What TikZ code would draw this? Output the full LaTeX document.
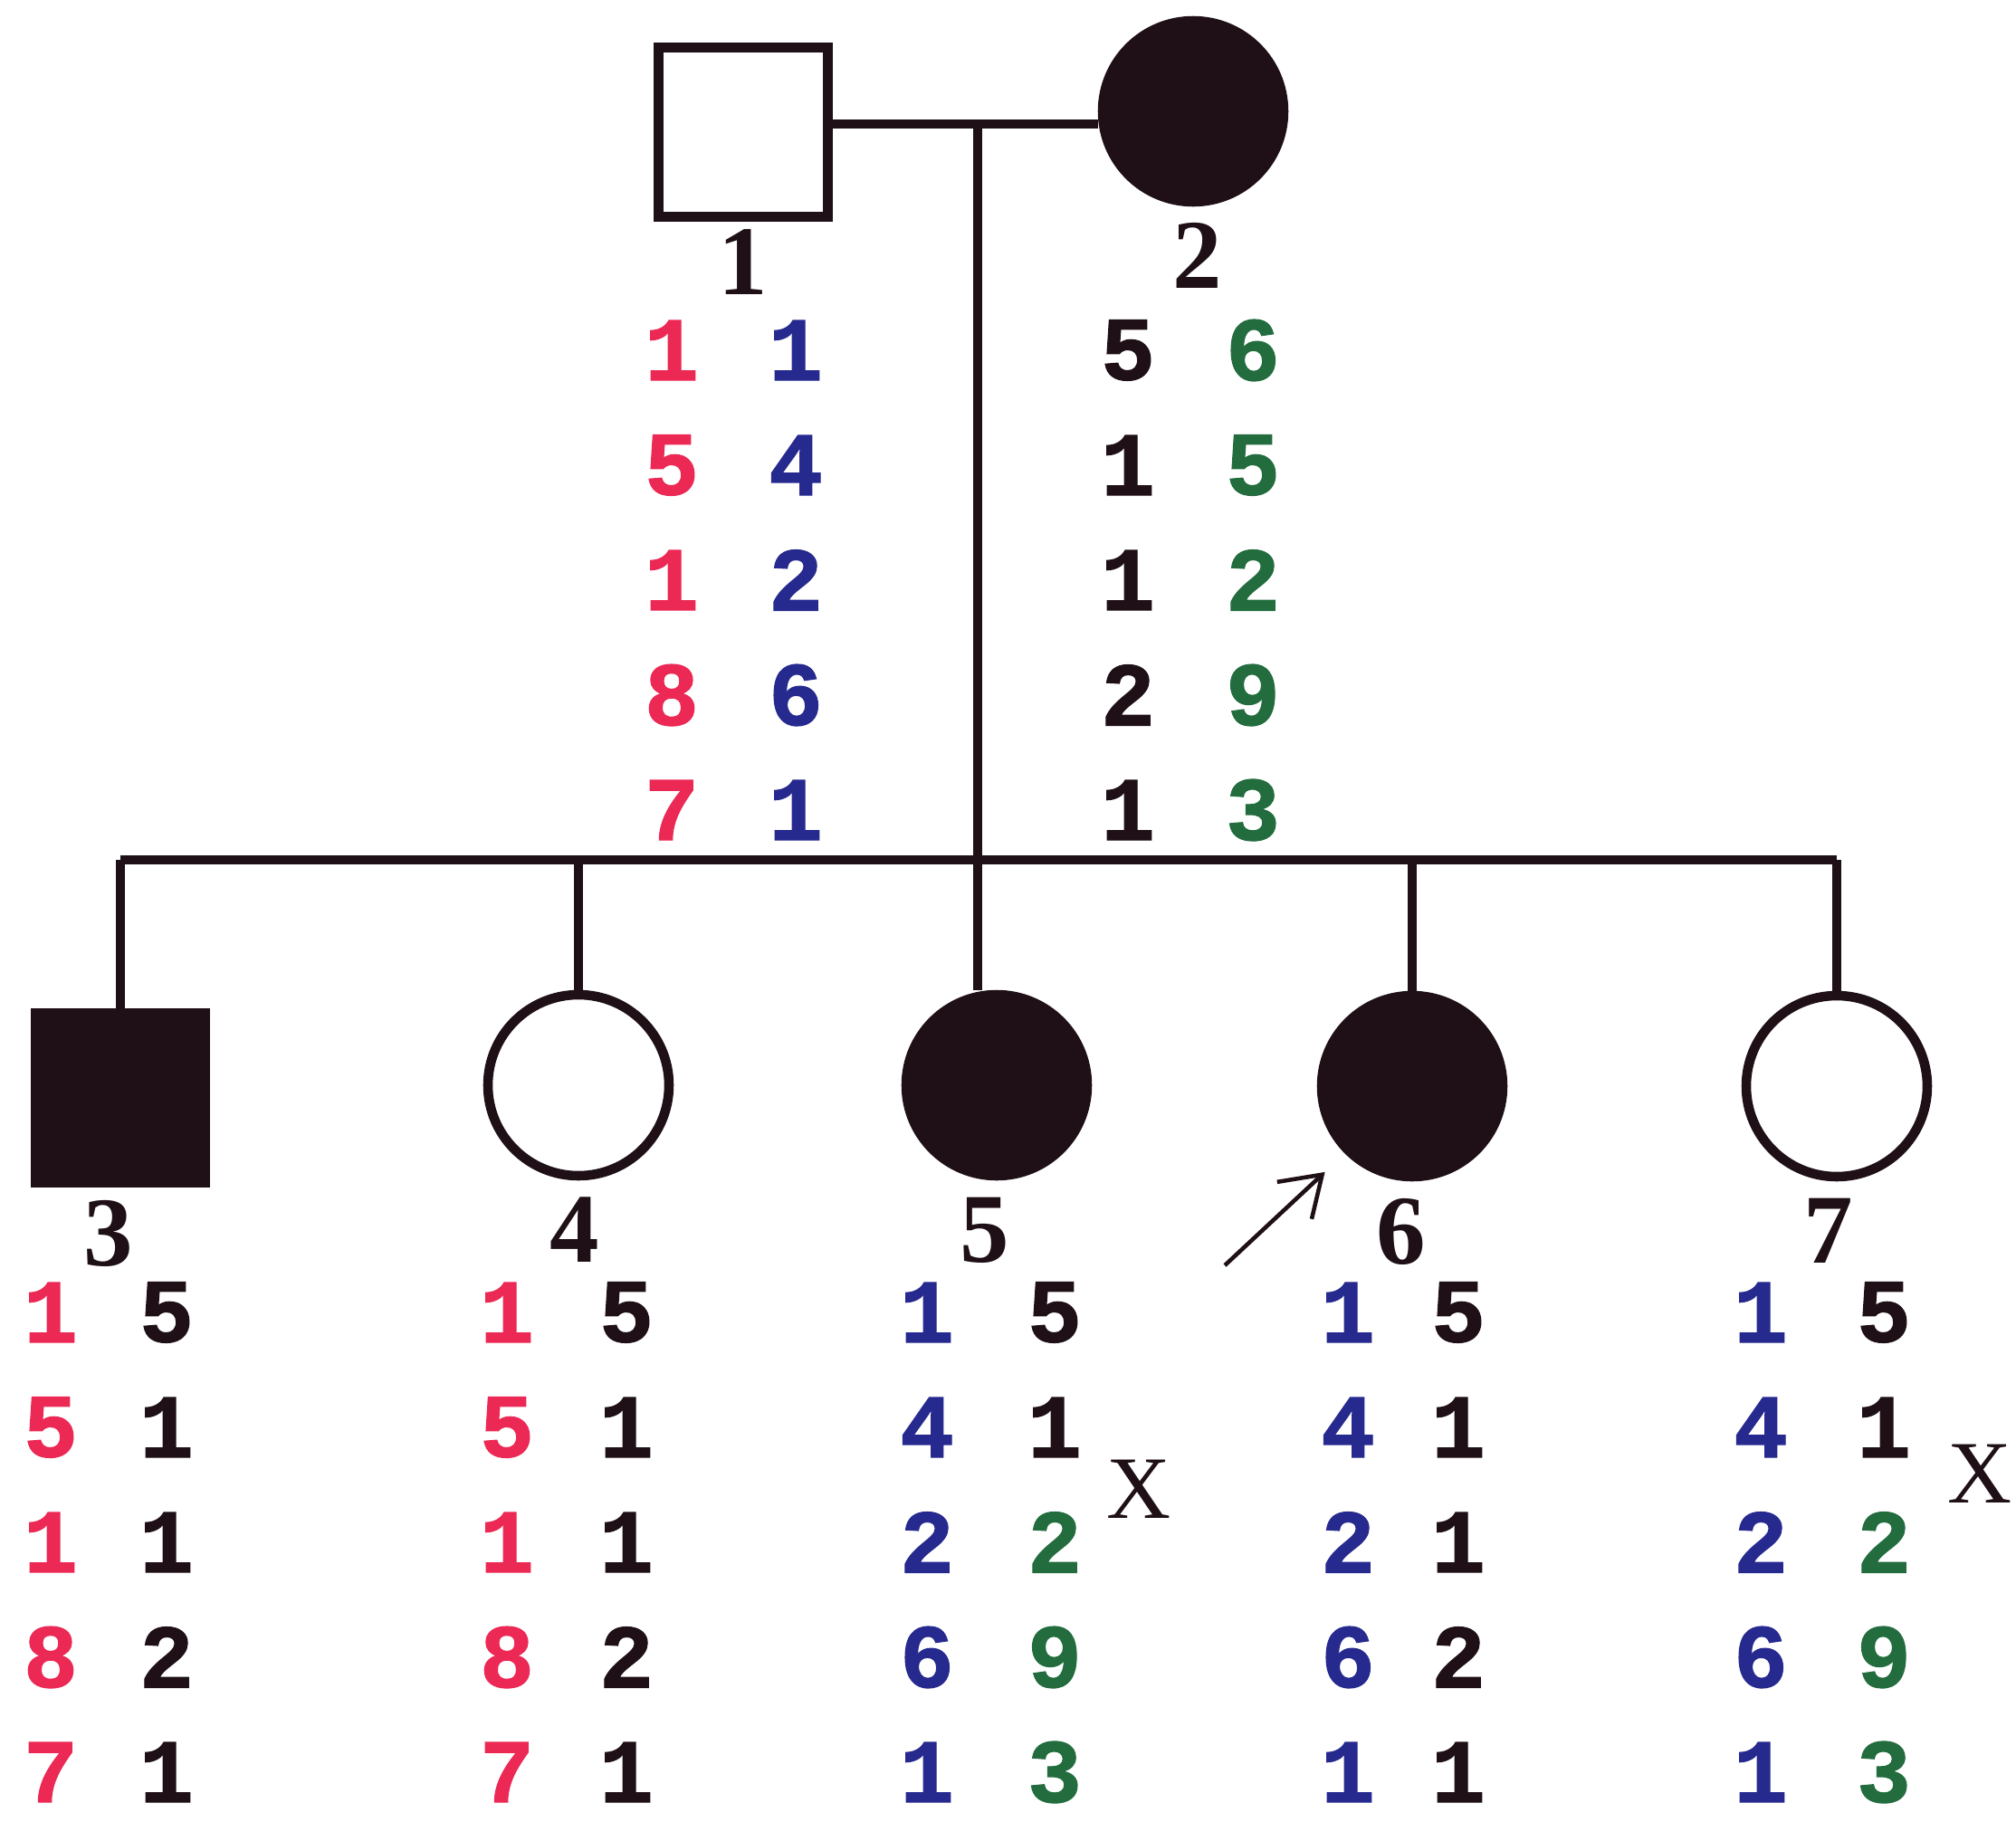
\documentclass[tikz,border=0pt]{standalone}
\usepackage{fontspec}
\usepackage{tikz}
\usetikzlibrary{arrows.meta, positioning}
\setmainfont{Liberation Serif}
\newfontfamily\allelemono[FakeBold=1.2]{Liberation Mono Bold}
\definecolor{ink}{RGB}{30,16,22}
\definecolor{hapred}{RGB}{236,40,84}
\definecolor{hapblue}{RGB}{38,42,142}
\definecolor{hapgreen}{RGB}{34,108,62}

\begin{document}
\begin{tikzpicture}[
    line/.style={draw=ink, line width=3pt},
    male/.style={line, rectangle, minimum size=1.87cm, inner sep=0pt},
    female/.style={line, circle, minimum size=2.0cm, inner sep=0pt},
    affected/.style={fill=ink},
    idlabel/.style={inner sep=0pt, text=ink,
                    font=\bfseries\fontsize{31pt}{31pt}\selectfont},
    allele/.style={inner sep=0pt, font=\allelemono\fontsize{28.5pt}{28.5pt}\selectfont},
    xmark/.style={inner sep=0pt, text=ink, font=\fontsize{28pt}{28pt}\selectfont},
    pointer/.style={draw=ink, line width=1.3pt,
                    -{Straight Barb[length=0.42cm, width=0.56cm]}},
  ]
    \useasboundingbox (0,0) rectangle (22.27,-20.34);

    % parents
    \node[male]            (p1) at (8.21,-1.46)  {};
    \node[female,affected] (p2) at (13.18,-1.23) {};
    \node[idlabel] (lab1) [below=0.08cm of p1] {1};
    \node[idlabel] (lab2) [below=0.17cm of p2, xshift=0.05cm] {2};

    % offspring
    \node[male,affected]   (k3) at (1.33,-12.13)  {};
    \node[female]          (k4) at (6.39,-11.99)  {};
    \node[female,affected] (k5) at (11.01,-11.99) {};
    \node[female,affected] (k6) at (15.60,-12.00) {};
    \node[female]          (k7) at (20.29,-12.00) {};
    \node[idlabel] (lab3) [below=0.14cm of k3, xshift=-0.13cm] {3};
    \node[idlabel] (lab4) [below=0.18cm of k4, xshift=-0.04cm] {4};
    \node[idlabel] (lab5) [below=0.18cm of k5, xshift=-0.13cm] {5};
    \node[idlabel] (lab6) [below=0.18cm of k6, xshift=-0.12cm] {6};
    \node[idlabel] (lab7) [below=0.18cm of k7, xshift=-0.09cm] {7};

    % mating, descent and sibship lines
    \coordinate (mate) at (10.80,-1.37);
    \coordinate (sib)  at (10.80,-9.50);
    \draw[line] (p1.east |- mate) -- (p2.west |- mate);
    \draw[line] (mate) -- (sib);
    \draw[line] (sib -| k3.north) -- (sib -| k7.north);
    \foreach \k in {k3,k4,k6,k7}
      \draw[line] (sib -| \k.north) -- (\k.north);
    \draw[line] (sib) -- (sib |- k5.north);

    % proband
    \coordinate (ptail) at (13.53,-13.98);
    \draw[pointer, shorten >=0.3cm] (ptail) -- (k6.south west);

    % haplotypes of the parents
    \foreach \a [count=\i] in {1,5,1,8,7}
      \node[allele, text=hapred]   (p1a\i) at (7.42,-2.60-1.27*\i)  {\a};
    \foreach \a [count=\i] in {1,4,2,6,1}
      \node[allele, text=hapblue]  (p1b\i) at (8.79,-2.60-1.27*\i)  {\a};
    \foreach \a [count=\i] in {5,1,1,2,1}
      \node[allele, text=ink]      (p2a\i) at (12.46,-2.60-1.27*\i) {\a};
    \foreach \a [count=\i] in {6,5,2,9,3}
      \node[allele, text=hapgreen] (p2b\i) at (13.84,-2.60-1.27*\i) {\a};

    % haplotypes of the offspring
    \foreach \a [count=\i] in {1,5,1,8,7}
      \node[allele, text=hapred]   (k3a\i) at (0.56,-13.23-1.27*\i)  {\a};
    \foreach \a [count=\i] in {5,1,1,2,1}
      \node[allele, text=ink]      (k3b\i) at (1.84,-13.23-1.27*\i)  {\a};
    \foreach \a [count=\i] in {1,5,1,8,7}
      \node[allele, text=hapred]   (k4a\i) at (5.60,-13.23-1.27*\i)  {\a};
    \foreach \a [count=\i] in {5,1,1,2,1}
      \node[allele, text=ink]      (k4b\i) at (6.92,-13.23-1.27*\i)  {\a};
    \foreach \a [count=\i] in {1,4,2,6,1}
      \node[allele, text=hapblue]  (k5a\i) at (10.24,-13.23-1.27*\i) {\a};
    \foreach \a/\c [count=\i] in {5/ink,1/ink,2/hapgreen,9/hapgreen,3/hapgreen}
      \node[allele, text=\c]       (k5b\i) at (11.65,-13.23-1.27*\i) {\a};
    \foreach \a [count=\i] in {1,4,2,6,1}
      \node[allele, text=hapblue]  (k6a\i) at (14.89,-13.23-1.27*\i) {\a};
    \foreach \a [count=\i] in {5,1,1,2,1}
      \node[allele, text=ink]      (k6b\i) at (16.11,-13.23-1.27*\i) {\a};
    \foreach \a [count=\i] in {1,4,2,6,1}
      \node[allele, text=hapblue]  (k7a\i) at (19.45,-13.23-1.27*\i) {\a};
    \foreach \a/\c [count=\i] in {5/ink,1/ink,2/hapgreen,9/hapgreen,3/hapgreen}
      \node[allele, text=\c]       (k7b\i) at (20.81,-13.23-1.27*\i) {\a};

    % recombination marks
    \node[xmark] (x5) at (12.58,-16.45) {X};
    \node[xmark] (x7) at (21.87,-16.28) {X};
  \end{tikzpicture}
\end{document}
